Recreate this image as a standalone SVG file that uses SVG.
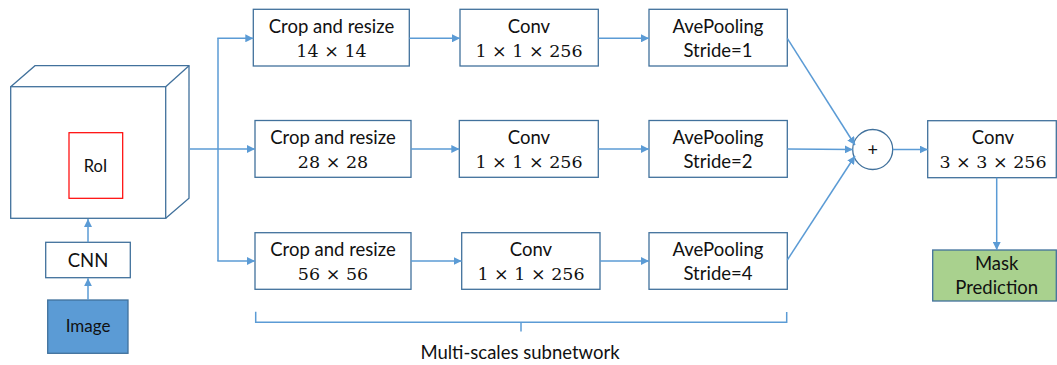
<svg xmlns="http://www.w3.org/2000/svg" width="1057" height="365" viewBox="0 0 1057 365">
  <style>
    .box { fill: #ffffff; stroke: #41719C; stroke-width: 1.3; }
    .lbl { font-family: Lato, "Open Sans", "Liberation Sans", sans-serif; font-size: 18.5px; fill: #111; text-anchor: middle; }
    .math { font-family: "DejaVu Serif", "Liberation Serif", serif; font-size: 17.5px; fill: #111; text-anchor: middle; }
    .wire { fill: none; stroke: #5B9BD5; stroke-width: 1.5; }
    .arr { marker-end: url(#head); }
  </style>
  <defs>
    <marker id="head" viewBox="0 0 10 10" refX="10" refY="5" markerWidth="8" markerHeight="8" markerUnits="userSpaceOnUse" orient="auto">
      <path d="M0,0 L10,5 L0,10 z" fill="#5B9BD5"/>
    </marker>
  </defs>

  <!-- feature map cube with RoI -->
  <g id="featuremap">
    <path d="M10.7,86.7 L35,65.7 L189,65.7 L189,198.3 L165.7,218.3" fill="#fff" stroke="#41719C" stroke-width="1.3"/>
    <line x1="165.7" y1="86.7" x2="189" y2="65.7" stroke="#41719C" stroke-width="1.3"/>
    <rect x="10.7" y="86.7" width="155" height="131.6" class="box"/>
    <rect x="69" y="132.7" width="53.7" height="65.6" fill="#fff" stroke="#FF0000" stroke-width="1.2"/>
    <text x="95.5" y="172" class="lbl" style="font-size:16.5px">RoI</text>
  </g>

  <g id="cnn">
    <rect x="45.7" y="242.3" width="84.6" height="35.4" class="box"/>
    <text x="88" y="266.5" class="lbl">CNN</text>
  </g>

  <g id="image">
    <rect x="47.7" y="300" width="80.3" height="53.3" fill="#5B9BD5" stroke="#41719C" stroke-width="1.3"/>
    <text x="88" y="332" class="lbl" style="font-size:17px">Image</text>
  </g>

  <!-- row 1 -->
  <g id="crop14">
    <rect x="253.3" y="9.3" width="156" height="56.7" class="box"/>
    <text x="331.5" y="33" class="lbl">Crop and resize</text>
    <text x="331.5" y="57" class="math">14 × 14</text>
  </g>
  <g id="conv1">
    <rect x="460" y="9.3" width="138.3" height="56.7" class="box"/>
    <text x="529" y="33" class="lbl">Conv</text>
    <text x="529" y="57" class="math">1 × 1 × 256</text>
  </g>
  <g id="pool1">
    <rect x="649" y="9.3" width="138.3" height="56.7" class="box"/>
    <text x="718" y="33" class="lbl">AvePooling</text>
    <text x="718" y="57" class="lbl">Stride=1</text>
  </g>

  <!-- row 2 -->
  <g id="crop28">
    <rect x="255" y="120.5" width="156" height="56.8" class="box"/>
    <text x="333" y="144" class="lbl">Crop and resize</text>
    <text x="333" y="168" class="math">28 × 28</text>
  </g>
  <g id="conv2">
    <rect x="459.3" y="120.5" width="139" height="56.8" class="box"/>
    <text x="529" y="144" class="lbl">Conv</text>
    <text x="529" y="168" class="math">1 × 1 × 256</text>
  </g>
  <g id="pool2">
    <rect x="649" y="120.5" width="138.3" height="56.8" class="box"/>
    <text x="718" y="144" class="lbl">AvePooling</text>
    <text x="718" y="168" class="lbl">Stride=2</text>
  </g>

  <!-- row 3 -->
  <g id="crop56">
    <rect x="255" y="232.7" width="156" height="56.6" class="box"/>
    <text x="333" y="256" class="lbl">Crop and resize</text>
    <text x="333" y="280" class="math">56 × 56</text>
  </g>
  <g id="conv3">
    <rect x="461.7" y="232.7" width="138.3" height="56.6" class="box"/>
    <text x="531" y="256" class="lbl">Conv</text>
    <text x="531" y="280" class="math">1 × 1 × 256</text>
  </g>
  <g id="pool3">
    <rect x="649" y="232.7" width="138.3" height="56.6" class="box"/>
    <text x="718" y="256" class="lbl">AvePooling</text>
    <text x="718" y="280" class="lbl">Stride=4</text>
  </g>

  <!-- element-wise sum -->
  <g id="sum">
    <circle cx="872.7" cy="149.5" r="20" class="box"/>
    <text x="872.7" y="155.5" class="lbl" style="font-size:18px">+</text>
  </g>

  <g id="conv3x3">
    <rect x="927.7" y="120.7" width="128.6" height="57" class="box"/>
    <text x="993" y="144" class="lbl">Conv</text>
    <text x="993" y="168" class="math">3 × 3 × 256</text>
  </g>

  <g id="mask">
    <rect x="932.7" y="250" width="123.6" height="51" fill="#A9D18E" stroke="#41719C" stroke-width="1.3"/>
    <text x="996.7" y="270" class="lbl">Mask</text>
    <text x="996.7" y="294" class="lbl">Prediction</text>
  </g>

  <!-- bracket and caption -->
  <g id="subnetwork">
    <path d="M255.7,311.7 L255.7,322.3 L786.7,322.3 L786.7,312" class="wire"/>
    <line x1="521" y1="322.3" x2="521" y2="331.5" class="wire"/>
    <text x="520" y="359" class="lbl">Multi-scales subnetwork</text>
  </g>

  <!-- connectors -->
  <g id="connectors">
    <line x1="88" y1="300" x2="88" y2="278.2" class="wire arr"/>
    <line x1="88" y1="242.3" x2="88" y2="219" class="wire arr"/>
    <line x1="190" y1="149" x2="218" y2="149" class="wire"/>
    <line x1="218" y1="38.3" x2="218" y2="261" class="wire"/>
    <line x1="217.3" y1="38.3" x2="253.3" y2="38.3" class="wire arr"/>
    <line x1="218" y1="149" x2="255" y2="149" class="wire arr"/>
    <line x1="217.3" y1="261" x2="255" y2="261" class="wire arr"/>
    <line x1="409.3" y1="38.3" x2="460" y2="38.3" class="wire arr"/>
    <line x1="411" y1="149" x2="459.3" y2="149" class="wire arr"/>
    <line x1="411" y1="261" x2="461.7" y2="261" class="wire arr"/>
    <line x1="598.3" y1="38.3" x2="649" y2="38.3" class="wire arr"/>
    <line x1="598.3" y1="149" x2="649" y2="149" class="wire arr"/>
    <line x1="600" y1="261" x2="649" y2="261" class="wire arr"/>
    <line x1="787.3" y1="38.3" x2="855" y2="145" class="wire arr"/>
    <line x1="787.3" y1="149" x2="852.7" y2="149.5" class="wire arr"/>
    <line x1="787.3" y1="260" x2="855" y2="156" class="wire arr"/>
    <line x1="892.7" y1="149.5" x2="927.7" y2="149.5" class="wire arr"/>
    <line x1="996.7" y1="177.7" x2="996.7" y2="250" class="wire arr"/>
  </g>
</svg>
